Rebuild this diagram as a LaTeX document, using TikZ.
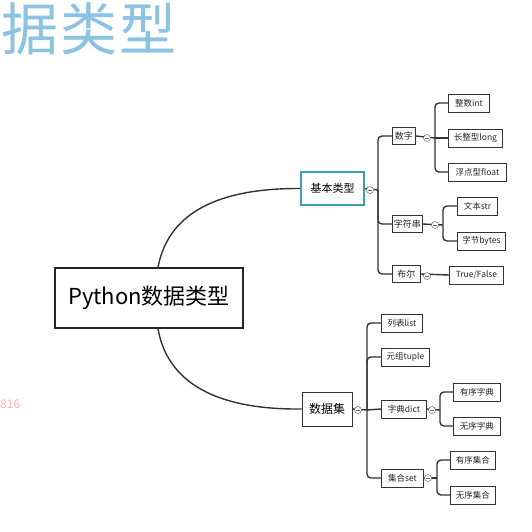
\documentclass[tikz,border=0pt]{standalone}
\usepackage{fontspec}
\newfontfamily\cjk{Noto Sans CJK SC}
\definecolor{titleblue}{HTML}{8CC2E2}
\definecolor{teal1}{HTML}{3C9FB4}
\definecolor{pink1}{HTML}{F2B5B5}
\definecolor{ink}{HTML}{333333}
\begin{document}
\begin{tikzpicture}[x=1pt,y=-1pt,
  conn/.style={draw=ink, line width=1.4pt},
  br/.style={conn, rounded corners=4pt},
  leaf/.style={draw=black!80, line width=0.9pt, fill=white, font=\cjk\fontsize{8.5}{10}\selectfont, minimum height=18pt, inner sep=1pt, anchor=west, text=black!85},
  mid/.style={leaf, font=\cjk\fontsize{9}{10}\selectfont, minimum height=17pt},
  cbtn/.style={circle, draw=black!60, fill=white, inner sep=0pt, minimum size=7pt, line width=0.5pt,
    path picture={\draw[line width=0.4pt] ([xshift=-1.8pt]path picture bounding box.center) -- ([xshift=1.8pt]path picture bounding box.center);}}]
\useasboundingbox (0,0) rectangle (532,531);

% background texts
\node[font=\cjk\fontsize{57}{57}\selectfont, text=titleblue, anchor=west, inner sep=0pt] (title) at (1,29) {据\hspace{2pt}类\hspace{2pt}型};
\node[font=\cjk\fontsize{12}{12}\selectfont, text=pink1, anchor=west, inner sep=0pt] (num816) at (0,404) {816};

% root
\node[draw=black!85, line width=1.3pt, fill=white, minimum width=188pt, minimum height=60pt, font=\cjk\fontsize{22}{24}\selectfont, inner sep=2pt] (root) at (149,298) {Python数据类型};

% level 1
\node[draw=teal1, line width=1.7pt, fill=white, minimum width=63pt, minimum height=33pt, font=\cjk\fontsize{11}{12}\selectfont, inner sep=1pt] (basic) at (332.5,188.5) {基本类型};
\node[draw=black!80, line width=1pt, fill=white, minimum width=50pt, minimum height=34pt, font=\cjk\fontsize{12}{13}\selectfont, inner sep=1pt] (coll) at (327,409) {数据集};

% level 2 (basic)
\node[mid, minimum width=23pt] (num) at (392,136) {数字};
\node[mid, minimum width=30pt] (str) at (392,224) {字符串};
\node[mid, minimum width=28pt] (bool) at (392,274) {布尔};
% level 3
\node[leaf, minimum width=41pt] (int) at (448,103) {整数int};
\node[leaf, minimum width=54pt] (long) at (448,138) {长整型long};
\node[leaf, minimum width=58pt] (float) at (448,172) {浮点型float};
\node[leaf, minimum width=40pt] (text) at (457,206) {文本str};
\node[leaf, minimum width=48pt] (bytes) at (457,241) {字节bytes};
\node[leaf, minimum width=54pt] (tf) at (449,275) {True/False};

% level 2 (collection)
\node[leaf, minimum width=41pt] (list) at (381,323) {列表list};
\node[leaf, minimum width=48pt] (tuple) at (381,357) {元组tuple};
\node[leaf, minimum width=45pt] (dict) at (381,409) {字典dict};
\node[leaf, minimum width=42pt] (set) at (381,478) {集合set};
\node[leaf, minimum width=47pt] (od) at (453,392) {有序字典};
\node[leaf, minimum width=47pt] (ud) at (453,426) {无序字典};
\node[leaf, minimum width=45pt] (os) at (450,460) {有序集合};
\node[leaf, minimum width=45pt] (us) at (450,495) {无序集合};

% trunk coordinates
\coordinate (tB) at (378,190);
\coordinate (tN) at (435,138);
\coordinate (tS) at (443,225);
\coordinate (tC) at (367,410);
\coordinate (tD) at (440,410);
\coordinate (tT) at (437,478);

% root curves
\draw[conn] ([xshift=9pt]root.north) .. controls (166,225) and (200,188) .. (basic.west);
\draw[conn] ([xshift=9pt]root.south) .. controls (166,375) and (205,410) .. (coll.west);

% basic branch
\draw[conn] (basic.east) -- (tB);
\draw[br] (tB) |- (num.west);
\draw[br] (tB) |- (str.west);
\draw[br] (tB) |- (bool.west);
\draw[conn] (num.east) -- (tN);
\draw[br] (tN) |- (int.west);
\draw[br] (tN) -- (long.west);
\draw[br] (tN) |- (float.west);
\draw[conn] (str.east) -- (tS);
\draw[br] (tS) |- (text.west);
\draw[br] (tS) |- (bytes.west);
\draw[conn] (bool.east) -- (tf.west);

% collection branch
\draw[conn] (coll.east) -- (tC);
\draw[br] (tC) |- (list.west);
\draw[br] (tC) |- (tuple.west);
\draw[br] (tC) -- (dict.west);
\draw[br] (tC) |- (set.west);
\draw[conn] (dict.east) -- (tD);
\draw[br] (tD) |- (od.west);
\draw[br] (tD) |- (ud.west);
\draw[conn] (set.east) -- (tT);
\draw[br] (tT) |- (os.west);
\draw[br] (tT) |- (us.west);

% collapse buttons
\node[cbtn] (bB) at (370,190) {};
\node[cbtn] (bN) at (427,138) {};
\node[cbtn] (bS) at (435,225) {};
\node[cbtn] (bL) at (427,276) {};
\node[cbtn] (bC) at (358,410) {};
\node[cbtn] (bD) at (432,410) {};
\node[cbtn] (bT) at (428,478) {};
\end{tikzpicture}
\end{document}
